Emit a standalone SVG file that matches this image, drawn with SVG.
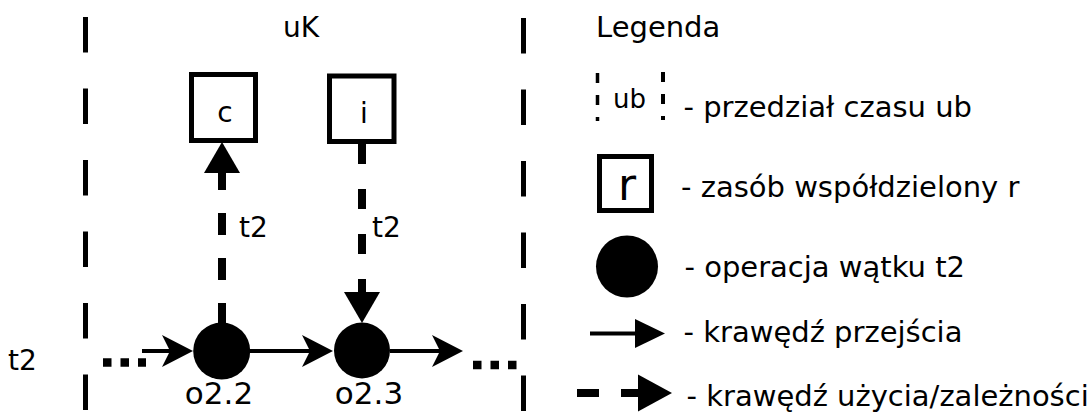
<svg xmlns="http://www.w3.org/2000/svg" width="1087" height="412" viewBox="0 0 1087 412">
  <style>
    text { font-family: "DejaVu Sans", "Liberation Sans", sans-serif; fill: #000; }
    .lbl { font-size: 28px; }
    .op { font-size: 31px; }
    .leg { font-size: 29px; }
    .bound { fill: none; stroke: #000; stroke-width: 5; stroke-dasharray: 35.5 36; }
    .res { fill: #fff; stroke: #000; stroke-width: 5; }
    .node { fill: #000; }
    .flow { fill: none; stroke: #000; stroke-width: 4; }
    .use { fill: none; stroke: #000; stroke-width: 8; }
    .dots { fill: none; stroke: #000; stroke-width: 8.5; stroke-dasharray: 8.5 9; }
  </style>
  <defs>
    <!-- notched head for transition edges; line ends at the notch -->
    <marker id="headNotch" markerUnits="userSpaceOnUse" orient="auto" viewBox="-32 -17 33 34" refX="-23" refY="0" markerWidth="33" markerHeight="34" overflow="visible">
      <path d="M0,0 L-31,-16 L-23,0 L-31,16 Z" fill="#000"/>
    </marker>
    <!-- plain triangular head for use/dependency edges; line ends at the base -->
    <marker id="headTri" markerUnits="userSpaceOnUse" orient="auto" viewBox="-32 -19 33 38" refX="-31" refY="0" markerWidth="33" markerHeight="38" overflow="visible">
      <path d="M0,0 L-31,-18 L-31,18 Z" fill="#000"/>
    </marker>
    <marker id="headTriSmall" markerUnits="userSpaceOnUse" orient="auto" viewBox="-31 -16 32 32" refX="-30" refY="0" markerWidth="32" markerHeight="32" overflow="visible">
      <path d="M0,0 L-30,-14.5 L-30,14.5 Z" fill="#000"/>
    </marker>
    <marker id="headTriLegend" markerUnits="userSpaceOnUse" orient="auto" viewBox="-35 -19 36 38" refX="-34" refY="0" markerWidth="36" markerHeight="38" overflow="visible">
      <path d="M0,0 L-34,-18.5 L-34,18.5 Z" fill="#000"/>
    </marker>
  </defs>

  <!-- time interval uK -->
  <g id="interval-uK">
    <line class="bound" x1="85.5" y1="17" x2="85.5" y2="412"/>
    <line class="bound" x1="523.5" y1="18" x2="523.5" y2="412"/>
    <text class="lbl" x="283" y="37">uK</text>
  </g>

  <text id="thread-t2" class="lbl" x="8" y="370">t2</text>

  <!-- shared resources -->
  <g id="res-c">
    <rect class="res" x="191.5" y="74.5" width="64" height="66"/>
    <text class="lbl" x="225" y="122" text-anchor="middle">c</text>
  </g>
  <g id="res-i">
    <rect class="res" x="329.5" y="76" width="64.5" height="65.5"/>
    <text class="lbl" x="364" y="122.5" text-anchor="middle">i</text>
  </g>

  <!-- thread operations -->
  <g id="op-o2.2">
    <circle class="node" cx="221.7" cy="351" r="28.5"/>
    <text class="op" x="219" y="404" text-anchor="middle">o2.2</text>
  </g>
  <g id="op-o2.3">
    <circle class="node" cx="362" cy="350.5" r="28"/>
    <text class="op" x="369" y="404" text-anchor="middle">o2.3</text>
  </g>

  <!-- edges -->
  <g id="connectors">
    <line class="dots" x1="103" y1="362.5" x2="146" y2="362.5"/>
    <line class="flow" x1="142" y1="351" x2="170" y2="351" marker-end="url(#headNotch)"/>
    <line class="flow" x1="250" y1="351" x2="310" y2="351" marker-end="url(#headNotch)"/>
    <line class="flow" x1="390" y1="351" x2="440" y2="351" marker-end="url(#headNotch)"/>
    <line class="dots" x1="473" y1="365" x2="517" y2="365"/>
    <line class="use" x1="222" y1="325" x2="222" y2="173" stroke-dasharray="22 23" marker-end="url(#headTri)"/>
    <text class="lbl" x="239" y="237">t2</text>
    <line class="use" x1="362" y1="144" x2="362" y2="292" stroke-dasharray="20 25" marker-end="url(#headTri)"/>
    <text class="lbl" x="372" y="237">t2</text>
  </g>

  <!-- legend -->
  <g id="legend">
    <text class="leg" x="596" y="37">Legenda</text>

    <g id="legend-interval">
      <line x1="597.5" y1="73" x2="597.5" y2="121" stroke="#000" stroke-width="3.5" stroke-dasharray="10 12"/>
      <line x1="663" y1="72" x2="663" y2="120" stroke="#000" stroke-width="4" stroke-dasharray="10 12"/>
      <text x="613" y="108" font-size="26">ub</text>
      <text class="leg" x="683.5" y="116.7">- przedział czasu ub</text>
    </g>

    <g id="legend-resource">
      <rect class="res" x="599.5" y="156.5" width="52" height="54"/>
      <text x="627" y="200" font-size="44" text-anchor="middle">r</text>
      <text class="leg" x="681" y="197">- zasób współdzielony r</text>
    </g>

    <g id="legend-operation">
      <circle class="node" cx="627" cy="266.5" r="31"/>
      <text class="leg" x="684.5" y="277">- operacja wątku t2</text>
    </g>

    <g id="legend-transition">
      <line class="flow" x1="590" y1="333.5" x2="635" y2="333.5" stroke-width="4.5" marker-end="url(#headTriSmall)"/>
      <text class="leg" x="683.5" y="342">- krawędź przejścia</text>
    </g>

    <g id="legend-use">
      <line class="use" x1="577" y1="393" x2="638" y2="393" stroke-dasharray="22 22" marker-end="url(#headTriLegend)"/>
      <text class="leg" x="686.5" y="406">- krawędź użycia/zależności</text>
    </g>
  </g>
</svg>
